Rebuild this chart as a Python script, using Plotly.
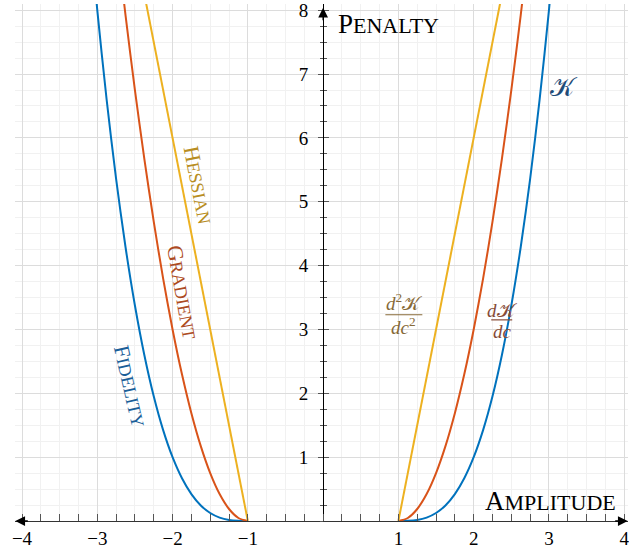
import plotly.graph_objects as go

# Penalty branches sampled for amplitude c >= 1; the c <= -1 branch is the mirror image
amp_fid = [1.0, 1.125, 1.25, 1.375, 1.5, 1.625, 1.75, 1.875, 2.0, 2.125, 2.25,
           2.375, 2.5, 2.625, 2.75, 2.875, 3.0, 3.125]
fidelity = [0.0, 0.002, 0.016, 0.053, 0.125, 0.244, 0.422, 0.67, 1.0, 1.424, 1.953,
            2.6, 3.375, 4.291, 5.359, 6.592, 8.0, 9.596]

amp_grad = [1.0, 1.125, 1.25, 1.375, 1.5, 1.625, 1.75, 1.875, 2.0, 2.125, 2.25,
            2.375, 2.5, 2.625, 2.75]
gradient = [0.0, 0.047, 0.188, 0.422, 0.75, 1.172, 1.688, 2.297, 3.0, 3.797, 4.688,
            5.672, 6.75, 7.922, 9.188]

amp_hess = [1.0, 2.5]
hessian = [0.0, 9.0]

x_ticks = [-4, -3, -2, -1, 1, 2, 3, 4]
y_ticks = [1, 2, 3, 4, 5, 6, 7, 8]

BLUE, ORANGE, YELLOW = "#0072BD", "#D95319", "#EDB120"
SERIF = "Liberation Serif, Times New Roman, serif"

XMIN, XMAX = -4.093, 4.05
YMIN, YMAX = 0.0, 8.097
Y_POS = (0 - XMIN) / (XMAX - XMIN)   # paper position of c = 0


def small_caps(word, big, small):
    return f"{word[0]}<span style='font-size:{small}px'>{word[1:].upper()}</span>"


fig = go.Figure()

for amp, pen, col in [(amp_fid, fidelity, BLUE),
                      (amp_grad, gradient, ORANGE),
                      (amp_hess, hessian, YELLOW)]:
    for sign in (1, -1):
        fig.add_trace(go.Scatter(
            x=[sign * a for a in amp], y=pen, mode="lines",
            line=dict(color=col, width=2, shape="spline", smoothing=0.8),
            hoverinfo="skip"))

# helper trace so the second (outside-tick) y axis is drawn
fig.add_trace(go.Scatter(x=[0], y=[0], yaxis="y2", mode="markers",
                         marker=dict(opacity=0), hoverinfo="skip"))

tickfont = dict(family=SERIF, size=19, color="black")

fig.update_layout(
    width=629, height=554,
    margin=dict(l=15, r=0, t=2, b=33),
    plot_bgcolor="white", paper_bgcolor="white",
    showlegend=False,
    xaxis=dict(
        range=[XMIN, XMAX], tickvals=x_ticks, ticks="inside", ticklen=7,
        tickcolor="#555", tickwidth=1, showline=True, linecolor="#333",
        linewidth=1.3, showgrid=True, gridcolor="#dcdcdc", gridwidth=1,
        zeroline=False, tickfont=tickfont, layer="above traces",
        ticklabeloverflow="allow",
        minor=dict(dtick=0.25, tick0=0, ticks="inside", ticklen=7,
                   tickcolor="#555", showgrid=True, gridcolor="#f1f1f1"),
    ),
    yaxis=dict(
        range=[YMIN, YMAX], tickvals=y_ticks, showticklabels=False,
        ticks="inside", ticklen=5, tickcolor="#555", anchor="free",
        position=Y_POS, showline=True, linecolor="black", linewidth=1.2,
        showgrid=True, gridcolor="#dcdcdc", zeroline=False,
        layer="above traces",
        minor=dict(dtick=0.25, tick0=0, ticks="inside", ticklen=3,
                   tickcolor="#555", showgrid=True, gridcolor="#f1f1f1"),
    ),
    yaxis2=dict(
        range=[YMIN, YMAX], overlaying="y", anchor="free", position=Y_POS,
        side="left", tickvals=y_ticks, ticks="outside", ticklen=5,
        tickcolor="#555", showline=False, showgrid=False, zeroline=False,
        tickfont=tickfont, ticklabelstandoff=6, ticklabeloverflow="allow",
        minor=dict(dtick=0.25, tick0=0, ticks="outside", ticklen=3,
                   tickcolor="#555", showgrid=False),
    ),
)

# axis arrow heads
for x, y, ax, ay in [(XMAX - 0.004, 0, -14, 0), (XMIN + 0.004, 0, 14, 0),
                     (0, 8.04, 0, 14)]:
    fig.add_annotation(x=x, y=y, ax=ax, ay=ay, text="", showarrow=True,
                       arrowhead=2, arrowsize=1.5, arrowwidth=1.3,
                       arrowcolor="black", xref="x", yref="y")

# axis titles
fig.add_annotation(x=0.17, y=7.78, text=small_caps("Penalty", 27, 22),
                   showarrow=False, xanchor="left", yanchor="middle",
                   font=dict(family=SERIF, size=27, color="black"))
fig.add_annotation(x=2.12, y=0.31, text=small_caps("Amplitude", 27, 22),
                   showarrow=False, xanchor="left", yanchor="middle",
                   font=dict(family=SERIF, size=27, color="black"))

# curve names along the left branches
for x, y, ang, word, col in [(-2.565, 2.12, 77, "Fidelity", "#1a5e98"),
                             (-1.865, 3.58, 80, "Gradient", "#ac4a22"),
                             (-1.653, 5.257, 79, "Hessian", "#b88d22")]:
    fig.add_annotation(x=x, y=y, text=small_caps(word, 22, 18), textangle=ang,
                       showarrow=False, xanchor="center", yanchor="middle",
                       font=dict(family=SERIF, size=22, color=col))

# math labels on the right branches
fig.add_annotation(x=3.20, y=6.79, text="𝒦", showarrow=False,
                   font=dict(family=SERIF, size=26, color="#1f4c78"))

for xc, y_num, y_bar, y_den, x0, x1, num, den, col in [
        (1.073, 3.43, 3.23, 3.06, 0.827, 1.318,
         "<i>d</i><sup>2</sup>𝒦", "<i>dc</i><sup>2</sup>", "#876a38"),
        (2.379, 3.30, 3.15, 2.975, 2.233, 2.512,
         "<i>d</i>𝒦", "<i>dc</i>", "#874b37")]:
    fig.add_annotation(x=xc, y=y_num, text=num, showarrow=False,
                       font=dict(family=SERIF, size=19, color=col))
    fig.add_annotation(x=xc, y=y_den, text=den, showarrow=False,
                       font=dict(family=SERIF, size=19, color=col))
    fig.add_shape(type="line", x0=x0, x1=x1, y0=y_bar, y1=y_bar,
                  line=dict(color=col, width=1.2))

fig.write_html("out.html")
